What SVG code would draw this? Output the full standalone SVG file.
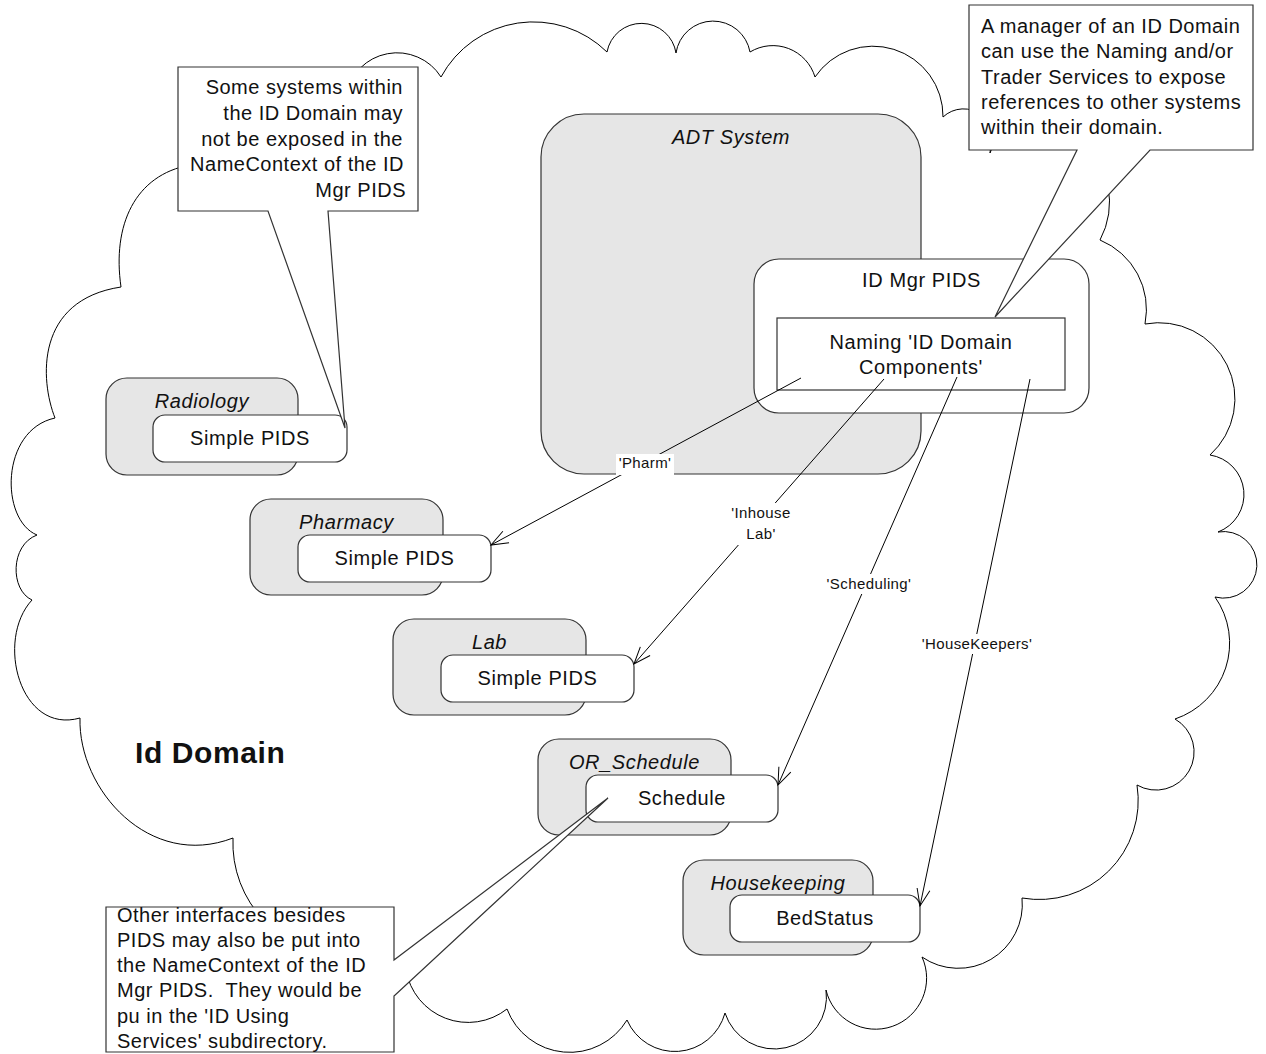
<svg xmlns="http://www.w3.org/2000/svg" width="1266" height="1054" viewBox="0 0 1266 1054">
  <style>
    text { font-family: "Liberation Sans", Arial, Helvetica, sans-serif; fill: #111; }
    .cloud { fill: #fff; stroke: #000; stroke-width: 1; }
    .sys { fill: #e6e6e6; stroke: #333; stroke-width: 1.2; }
    .iface { fill: #fff; stroke: #333; stroke-width: 1.2; }
    .ctx { fill: #fff; stroke: #333; stroke-width: 1.2; }
    .title { font-size: 20px; font-style: italic; text-anchor: middle; letter-spacing: 0.6px; }
    .name { font-size: 20px; text-anchor: middle; letter-spacing: 0.6px; }
    .note { fill: #fff; stroke: #333; stroke-width: 1.2; }
    .notetext { font-size: 20px; letter-spacing: 0.5px; white-space: pre; }
    .edge { stroke: #000; stroke-width: 1; fill: none; }
    .elabel { font-size: 15px; text-anchor: middle; letter-spacing: 0.4px; }
    .lbg { fill: #fff; stroke: none; }
  </style>
  <defs>
    <marker id="open" markerUnits="userSpaceOnUse" markerWidth="22" markerHeight="16" refX="19" refY="8" orient="auto">
      <path d="M2,1.5 L19,8 L2,14.5" fill="none" stroke="#000" stroke-width="1"/>
    </marker>
  </defs>

  <rect width="1266" height="1054" fill="#fff"/>

  <!-- domain boundary -->
  <g id="id-domain">
    <path class="cloud" d="M121,287 C112,225 135,175 190,165 L346,95
      A52 52 0 0 1 441,77
      A105 105 0 0 1 607,52
      A35 35 0 0 1 676,53
      A37.5 37.5 0 0 1 750,52
      A44 44 0 0 1 815,77
      A70 70 0 0 1 943,117
      A30 30 0 0 1 990,153
      A46 46 0 0 1 1080,140
      A80 80 0 0 1 1100,240
      A75 75 0 0 1 1145,324
      A76 76 0 0 1 1210,455
      A40 40 0 0 1 1218,532
      A33.3 33.3 0 1 1 1215,597
      A80 80 0 0 1 1175,719
      A38 38 0 1 1 1137,785
      A99 99 0 0 1 1022,898
      A64 64 0 0 1 922,957
      A51 51 0 1 1 826,990
      A52 52 0 0 1 725,1013
      A52 52 0 0 1 627,1020
      A67 67 0 0 1 507,1009
      A63 63 0 0 1 406,970
      L346,955
      A112 112 0 0 1 233,838
      C150,870 78,790 80,718
      C20,735 -5,640 32,600
      C10,590 10,545 37,535
      C0,520 0,430 55,418
      C40,380 35,300 121,287 Z"/>
    <text x="135" y="763" font-size="30" font-weight="bold" letter-spacing="0.6">Id Domain</text>
  </g>

  <!-- ADT system with its ID manager -->
  <g id="adt-system">
    <rect class="sys" x="541" y="114" width="380" height="360" rx="43"/>
    <text class="title" x="731" y="144">ADT System</text>
  </g>
  <g id="id-mgr-pids">
    <rect class="iface" x="754" y="259" width="335" height="154" rx="25"/>
    <text class="name" x="921.5" y="287">ID Mgr PIDS</text>
  </g>
  <g id="naming-context">
    <rect class="ctx" x="777" y="318" width="288" height="72"/>
    <text class="name" x="921" y="349">Naming 'ID Domain</text>
    <text class="name" x="921" y="374">Components'</text>
  </g>

  <!-- member systems -->
  <g id="radiology">
    <rect class="sys" x="106" y="378" width="192" height="97" rx="21"/>
    <text class="title" x="202" y="408">Radiology</text>
    <rect class="iface" x="153" y="415" width="194" height="47" rx="12"/>
    <text class="name" x="250" y="445">Simple PIDS</text>
  </g>
  <g id="pharmacy">
    <rect class="sys" x="250" y="499" width="193" height="96" rx="21"/>
    <text class="title" x="346.5" y="529">Pharmacy</text>
    <rect class="iface" x="298" y="535" width="193" height="47" rx="12"/>
    <text class="name" x="394.5" y="565">Simple PIDS</text>
  </g>
  <g id="lab">
    <rect class="sys" x="393" y="619" width="193" height="96" rx="21"/>
    <text class="title" x="489.5" y="649">Lab</text>
    <rect class="iface" x="441" y="655" width="193" height="47" rx="12"/>
    <text class="name" x="537.5" y="685">Simple PIDS</text>
  </g>
  <g id="or-schedule">
    <rect class="sys" x="538" y="739" width="193" height="96" rx="21"/>
    <text class="title" x="634.5" y="769">OR_Schedule</text>
    <rect class="iface" x="586" y="775" width="192" height="47" rx="12"/>
    <text class="name" x="682" y="805">Schedule</text>
  </g>
  <g id="housekeeping">
    <rect class="sys" x="683" y="860" width="190" height="95" rx="21"/>
    <text class="title" x="778" y="890">Housekeeping</text>
    <rect class="iface" x="730" y="895" width="190" height="47" rx="12"/>
    <text class="name" x="825" y="925">BedStatus</text>
  </g>

  <!-- name bindings -->
  <g id="connectors">
    <line class="edge" x1="801" y1="378" x2="491" y2="545" marker-end="url(#open)"/>
    <line class="edge" x1="884" y1="379" x2="634" y2="664" marker-end="url(#open)"/>
    <line class="edge" x1="957" y1="377" x2="778" y2="785" marker-end="url(#open)"/>
    <line class="edge" x1="1030" y1="379" x2="920" y2="906" marker-end="url(#open)"/>

    <rect class="lbg" x="616" y="454" width="58" height="21"/>
    <text class="elabel" x="645" y="468">'Pharm'</text>
    <rect class="lbg" x="725" y="503" width="72" height="42"/>
    <text class="elabel" x="761" y="518">'Inhouse</text>
    <text class="elabel" x="761" y="539">Lab'</text>
    <rect class="lbg" x="822" y="574" width="94" height="20"/>
    <text class="elabel" x="869" y="589">'Scheduling'</text>
    <rect class="lbg" x="918" y="634" width="118" height="20"/>
    <text class="elabel" x="977" y="649">'HouseKeepers'</text>
  </g>

  <!-- notes -->
  <g id="note-hidden-systems">
    <path class="note" d="M178,67 H418 V211 H328 L345,428 L268,211 H178 Z"/>
    <text class="notetext" text-anchor="end" x="403" y="94">Some systems within</text>
    <text class="notetext" text-anchor="end" x="403" y="120">the ID Domain may</text>
    <text class="notetext" text-anchor="end" x="403" y="146">not be exposed in the</text>
    <text class="notetext" text-anchor="end" x="404" y="171">NameContext of the ID</text>
    <text class="notetext" text-anchor="end" x="406" y="197">Mgr PIDS</text>
  </g>
  <g id="note-manager">
    <path class="note" d="M969,5 H1253 V150 H1150 L995,317 L1077,150 H969 Z"/>
    <text class="notetext" x="981" y="33">A manager of an ID Domain</text>
    <text class="notetext" x="981" y="58">can use the Naming and/or</text>
    <text class="notetext" x="981" y="84">Trader Services to expose</text>
    <text class="notetext" x="981" y="109">references to other systems</text>
    <text class="notetext" x="981" y="134">within their domain.</text>
  </g>
  <g id="note-other-interfaces">
    <path class="note" d="M106,907 H394 V960 L608,798 L394,996 V1052 H106 Z"/>
    <text class="notetext" x="117" y="922">Other interfaces besides</text>
    <text class="notetext" x="117" y="947">PIDS may also be put into</text>
    <text class="notetext" x="117" y="972">the NameContext of the ID</text>
    <text class="notetext" x="117" y="997">Mgr PIDS.  They would be</text>
    <text class="notetext" x="117" y="1023">pu in the 'ID Using</text>
    <text class="notetext" x="117" y="1048">Services' subdirectory.</text>
  </g>
</svg>
